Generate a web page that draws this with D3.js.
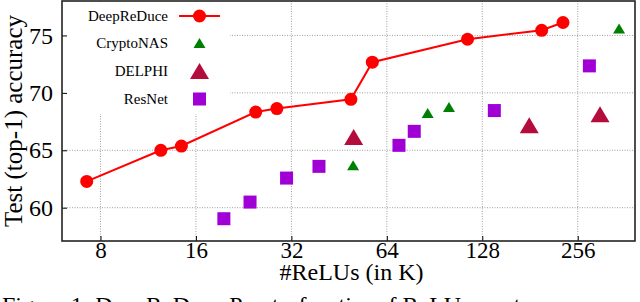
<!DOCTYPE html>
<html>
<head>
<meta charset="utf-8">
<script src="https://cdn.jsdelivr.net/npm/d3@7/dist/d3.min.js"></script>
<style>
  html, body { margin: 0; padding: 0; background: #fff; }
  svg { display: block; }
  text { font-family: "Liberation Serif", "Times New Roman", Times, serif; fill: #000; }
</style>
</head>
<body>
<svg id="chart" width="640" height="302"></svg>
<script>
// ---- data (ReLU counts in K, top-1 accuracy %) ----
const deepReduceK   = [7.24, 12.4, 14.4, 24.7, 28.8, 49.3, 57.6, 115, 197, 230];
const deepReduceAcc = [62.29, 65.0, 65.37, 68.33, 68.63, 69.44, 72.67, 74.67, 75.45, 76.13];
const cryptoNasK    = [50.1, 86.1, 100.5, 345.6];
const cryptoNasAcc  = [63.69, 68.25, 68.77, 75.6];
const delphiK       = [50.3, 180, 301];
const delphiAcc     = [66.16, 67.18, 68.13];
const resnetK       = [19.6, 23.7, 30.9, 39.1, 69.9, 78.1, 139.7, 278.6];
const resnetAcc     = [59.04, 60.49, 62.58, 63.6, 65.43, 66.65, 68.46, 72.35];
const xTicks = [8, 16, 32, 64, 128, 256];
const yTicks = [60, 65, 70, 75];
const seriesNames = ["DeepReDuce", "CryptoNAS", "DELPHI", "ResNet"];
const xTitle = "#ReLUs (in K)";
const yTitle = "Test (top-1) accuracy";
const caption = "Figure 1: DeepReDuce Pareto-frontier of ReLU counts versus accuracy";

const C = { red: "#ff0000", green: "#008000", delphi: "#b40c3c", resnet: "#a000d6" };
const FONT = '"Liberation Serif", "Times New Roman", Times, serif';

const svg = d3.select("#chart");
const L = 62, R = 635, T = 1, B = 241;

const x = d3.scaleLog().base(2).domain([6.05, 388]).range([L, R]);
const y = d3.scaleLinear().domain([57.1, 78.0]).range([B, T]);

// grid
const grid = svg.append("g");
grid.selectAll("line.v").data(xTicks).join("line")
  .attr("x1", d => x(d)).attr("x2", d => x(d)).attr("y1", T).attr("y2", B)
  .attr("stroke", "#a0a0a0").attr("stroke-width", 1).attr("stroke-dasharray", "1,1.5");
grid.selectAll("line.h").data(yTicks).join("line")
  .attr("y1", d => y(d)).attr("y2", d => y(d)).attr("x1", L).attr("x2", R)
  .attr("stroke", "#a0a0a0").attr("stroke-width", 1).attr("stroke-dasharray", "1,1.5");

// legend background (covers grid)
svg.append("rect").attr("x", L + 1).attr("y", T + 1).attr("width", 229 - L).attr("height", 112)
  .attr("fill", "#fff");

// axes (inner ticks)
const xAxis = d3.axisBottom(x).tickValues(xTicks).tickFormat(d3.format("d")).tickSizeInner(-5).tickSizeOuter(0).tickPadding(1);
const gx = svg.append("g").attr("transform", `translate(0,${B})`).call(xAxis);
gx.attr("font-family", null);
gx.select(".domain").remove();
gx.selectAll("line").attr("stroke", "#000");
gx.selectAll("text").style("font-size", "23px").style("font-family", FONT);

const yAxis = d3.axisLeft(y).tickValues(yTicks).tickSizeInner(-5).tickSizeOuter(0).tickPadding(9);
const gy = svg.append("g").attr("transform", `translate(${L},0)`).call(yAxis);
gy.attr("font-family", null);
gy.select(".domain").remove();
gy.selectAll("line").attr("stroke", "#000");
gy.selectAll("text").style("font-size", "24px").style("font-family", FONT);

// frame
svg.append("rect").attr("x", L).attr("y", T).attr("width", R - L).attr("height", B - T)
  .attr("fill", "none").attr("stroke", "#222").attr("stroke-width", 1.6);

// marker helpers
const tri = (w, h) => `M0,${-h/2}L${w/2},${h/2}L${-w/2},${h/2}Z`;

// DeepReDuce line + circles
const dr = deepReduceK.map((k, i) => [k, deepReduceAcc[i]]);
svg.append("path").datum(dr)
  .attr("d", d3.line().x(d => x(d[0])).y(d => y(d[1])))
  .attr("fill", "none").attr("stroke", C.red).attr("stroke-width", 2);
svg.selectAll("circle.dr").data(dr).join("circle")
  .attr("cx", d => x(d[0])).attr("cy", d => y(d[1])).attr("r", 6.5).attr("fill", C.red);

// CryptoNAS
svg.selectAll("path.cn").data(cryptoNasK.map((k, i) => [k, cryptoNasAcc[i]])).join("path")
  .attr("d", tri(12, 10)).attr("transform", d => `translate(${x(d[0])},${y(d[1])})`).attr("fill", C.green);

// DELPHI
svg.selectAll("path.de").data(delphiK.map((k, i) => [k, delphiAcc[i]])).join("path")
  .attr("d", tri(19, 16)).attr("transform", d => `translate(${x(d[0])},${y(d[1])})`).attr("fill", C.delphi);

// ResNet
svg.selectAll("rect.rn").data(resnetK.map((k, i) => [k, resnetAcc[i]])).join("rect")
  .attr("x", d => x(d[0]) - 6.5).attr("y", d => y(d[1]) - 6.5).attr("width", 13).attr("height", 13)
  .attr("fill", C.resnet);

// legend
const legY = [16, 43, 71, 99];
const leg = svg.append("g");
seriesNames.forEach((n, i) => {
  leg.append("text").attr("x", 168).attr("y", legY[i] + 5).attr("text-anchor", "end")
    .style("font-size", "15px").text(n);
});
leg.append("line").attr("x1", 179).attr("x2", 220).attr("y1", legY[0]).attr("y2", legY[0])
  .attr("stroke", C.red).attr("stroke-width", 2);
leg.append("circle").attr("cx", 199.5).attr("cy", legY[0]).attr("r", 6.5).attr("fill", C.red);
leg.append("path").attr("d", tri(12, 10)).attr("transform", `translate(199.5,${legY[1]})`).attr("fill", C.green);
leg.append("path").attr("d", tri(19, 16)).attr("transform", `translate(199.5,${legY[2]})`).attr("fill", C.delphi);
leg.append("rect").attr("x", 199.5 - 6.5).attr("y", legY[3] - 6.5).attr("width", 13).attr("height", 13).attr("fill", C.resnet);

// titles
svg.append("text").attr("x", (L + R) / 2 + 3).attr("y", 280).attr("text-anchor", "middle")
  .style("font-size", "24px").text(xTitle);
svg.append("text").attr("transform", "translate(22,121) rotate(-90)").attr("text-anchor", "middle")
  .style("font-size", "25px").text(yTitle);

// caption (cut off at bottom, as in the reference)
svg.append("text").attr("x", 2).attr("y", 313).style("font-size", "24px").text(caption);
</script>
</body>
</html>
